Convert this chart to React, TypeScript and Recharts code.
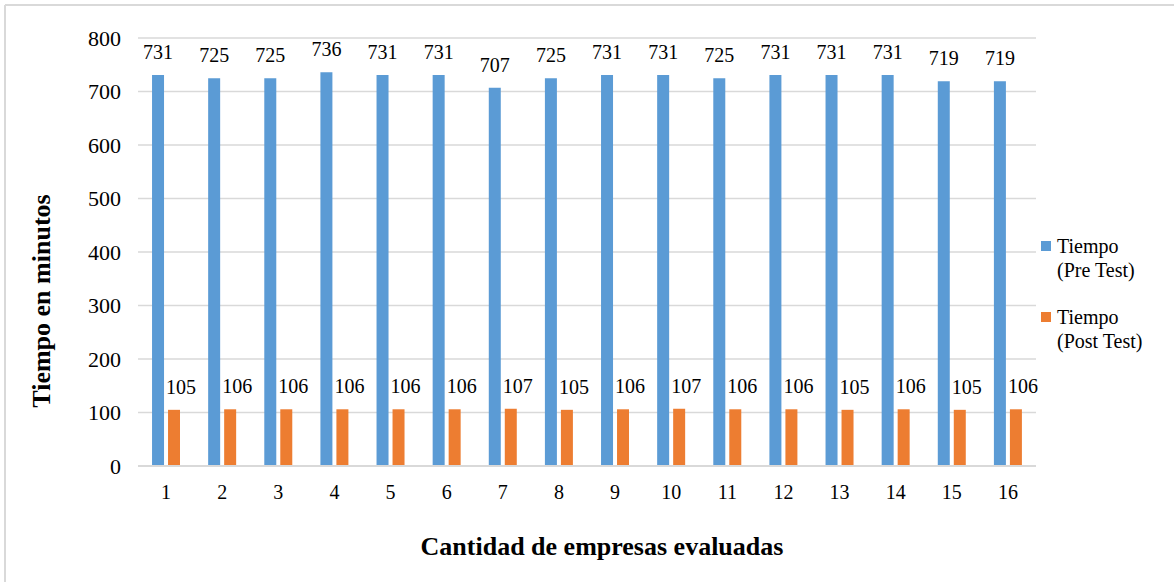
import { BarChart, Bar, XAxis, YAxis, CartesianGrid, LabelList, Label } from 'recharts';

const empresas = ['1', '2', '3', '4', '5', '6', '7', '8', '9', '10', '11', '12', '13', '14', '15', '16'];
const preTest = [731, 725, 725, 736, 731, 731, 707, 725, 731, 731, 725, 731, 731, 731, 719, 719];
const postTest = [105, 106, 106, 106, 106, 106, 107, 105, 106, 107, 106, 106, 105, 106, 105, 106];
const yTicks = [0, 100, 200, 300, 400, 500, 600, 700, 800];

const seriesNames = [
  ['Tiempo', '(Pre Test)'],
  ['Tiempo', '(Post Test)'],
];

const BLUE = '#5B9BD5';
const ORANGE = '#ED7D31';
const GRID = '#D9D9D9';
const FONT = 'Liberation Serif, DejaVu Serif, serif';

const data = empresas.map((name, i) => ({ name, pre: preTest[i], post: postTest[i] }));

const W = 1174;
const H = 582;

function YTitle(props: any) {
  const vb = props.viewBox;
  const x = vb.x - 28;
  const y = vb.y + vb.height / 2 + 49;
  return (
    <text
      x={x}
      y={y}
      transform={`rotate(-90 ${x} ${y})`}
      textAnchor="middle"
      style={{ fontFamily: FONT, fontSize: 26, fontWeight: 'bold' }}
      fill="#000"
    >
      Tiempo en minutos
    </text>
  );
}

function XTitle(props: any) {
  const vb = props.viewBox;
  return (
    <text
      x={vb.x + vb.width / 2 + 15}
      y={vb.y + 89}
      textAnchor="middle"
      style={{ fontFamily: FONT, fontSize: 26, fontWeight: 'bold' }}
      fill="#000"
    >
      Cantidad de empresas evaluadas
    </text>
  );
}

export default function App() {
  const colors = [BLUE, ORANGE];
  return (
    <div style={{ position: 'absolute', left: 0, top: 0, width: W, height: H, background: '#fff', fontFamily: FONT }}>
      <BarChart
        width={W}
        height={H}
        data={data}
        margin={{ top: 38, right: 138, bottom: 86, left: 78 }}
        barCategoryGap="25%"
        barGap={4}
        style={{ fontFamily: FONT }}
      >
        <CartesianGrid vertical={false} stroke={GRID} strokeWidth={1.5} />
        <XAxis
          dataKey="name"
          height={30}
          tickLine={false}
          axisLine={{ stroke: GRID, strokeWidth: 2 }}
          tickMargin={13}
          tick={{ fill: '#000', fontSize: 20, style: { fontFamily: FONT } }}
          interval={0}
        >
          <Label content={<XTitle />} />
        </XAxis>
        <YAxis
          width={60}
          domain={[0, 800]}
          ticks={yTicks}
          tickLine={false}
          axisLine={false}
          tickMargin={11}
          tick={{ fill: '#000', fontSize: 22, style: { fontFamily: FONT } }}
        >
          <Label content={<YTitle />} />
        </YAxis>
        <Bar dataKey="pre" fill={BLUE} isAnimationActive={false}>
          <LabelList
            dataKey="pre"
            position="top"
            offset={16}
            fill="#000"
            fontSize={20}
            style={{ fontFamily: FONT }}
          />
        </Bar>
        <Bar dataKey="post" fill={ORANGE} isAnimationActive={false}>
          <LabelList
            dataKey="post"
            position="top"
            offset={16}
            dx={7}
            fill="#000"
            fontSize={20}
            style={{ fontFamily: FONT }}
          />
        </Bar>
      </BarChart>
      <svg width={W} height={H} style={{ position: 'absolute', left: 0, top: 0, pointerEvents: 'none' }}>
        {/* chart frame, only top and left edges fall inside the canvas */}
        <line x1={5} y1={5} x2={W} y2={5} stroke={GRID} strokeWidth={2} />
        <line x1={5} y1={5} x2={5} y2={H} stroke={GRID} strokeWidth={2} />
        {/* legend */}
        {seriesNames.map((lines, i) => (
          <g key={i} transform={`translate(1041, ${241 + i * 71})`}>
            <rect x={0} y={0} width={10} height={10} fill={colors[i]} />
            <text x={16} y={12} style={{ fontFamily: FONT, fontSize: 20 }} fill="#000">
              <tspan x={16}>{lines[0]}</tspan>
              <tspan x={16} dy={24}>{lines[1]}</tspan>
            </text>
          </g>
        ))}
      </svg>
    </div>
  );
}
